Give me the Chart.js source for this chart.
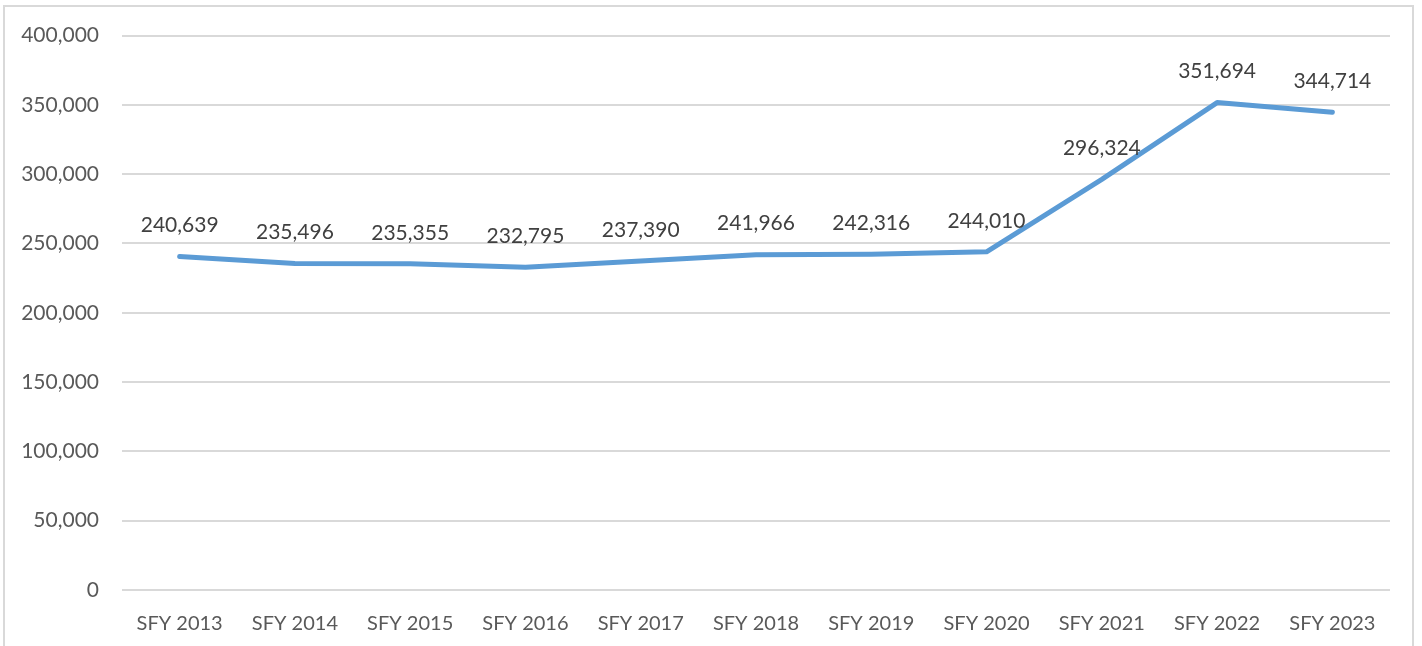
<!DOCTYPE html>
<html>
<head>
<meta charset="utf-8">
<script src="https://cdn.jsdelivr.net/npm/chart.js@4/dist/chart.umd.min.js"></script>
<style>
    html, body { margin: 0; padding: 0; background: #fff; overflow: hidden; }
    .wrap { position: relative; width: 1422px; height: 646px; }
    .frame {
        position: absolute; left: 3px; top: 5px; width: 1411px; height: 700px;
        border: 2px solid #d9d9d9; box-sizing: border-box;
    }
    canvas { position: absolute; left: 0; top: 0; }
</style>
</head>
<body>
<div class="wrap">
    <div class="frame"></div>
    <canvas id="enrollChart" width="1422" height="646"></canvas>
</div>
<script>
const categories = ['SFY 2013', 'SFY 2014', 'SFY 2015', 'SFY 2016', 'SFY 2017', 'SFY 2018',
    'SFY 2019', 'SFY 2020', 'SFY 2021', 'SFY 2022', 'SFY 2023'];
const values = [240639, 235496, 235355, 232795, 237390, 241966, 242316, 244010, 296324, 351694, 344714];
const yTicks = [0, 50000, 100000, 150000, 200000, 250000, 300000, 350000, 400000];

const fontFamily = "Lato, 'Open Sans', sans-serif";

// draws the value above each point
const valueLabels = {
    id: 'valueLabels',
    afterDatasetsDraw(chart) {
        const ctx = chart.ctx;
        const meta = chart.getDatasetMeta(0);
        ctx.save();
        ctx.font = '21px ' + fontFamily;
        ctx.fillStyle = '#404040';
        ctx.textAlign = 'center';
        ctx.textBaseline = 'middle';
        meta.data.forEach((pt, i) => {
            ctx.fillText(values[i].toLocaleString('en-US'), pt.x, pt.y - 31);
        });
        ctx.restore();
    }
};

const ctx = document.getElementById('enrollChart').getContext('2d');
const enrollChart = new Chart(ctx, {
    type: 'line',
    data: {
        labels: categories,
        datasets: [{
            data: values,
            borderColor: '#5B9BD5',
            borderWidth: 5,
            pointRadius: 0,
            tension: 0,
            borderJoinStyle: 'round',
            borderCapStyle: 'round'
        }]
    },
    options: {
        responsive: false,
        animation: false,
        layout: {
            padding: { left: 0, right: 32, top: 26, bottom: 0 }
        },
        plugins: {
            legend: { display: false },
            tooltip: { enabled: false }
        },
        scales: {
            x: {
                offset: true,
                grid: { display: false },
                border: { display: false },
                ticks: {
                    color: '#595959',
                    padding: 14,
                    maxRotation: 0,
                    font: { family: fontFamily, size: 20 }
                },
                afterFit: function(scale) { scale.height = 56; }
            },
            y: {
                min: 0,
                max: 400000,
                grid: { color: '#d9d9d9', lineWidth: 2, drawTicks: false },
                border: { display: false },
                afterBuildTicks: function(scale) {
                    scale.ticks = yTicks.map(v => ({ value: v }));
                },
                ticks: {
                    color: '#595959',
                    padding: 23,
                    font: { family: fontFamily, size: 21 },
                    callback: function(value) { return value.toLocaleString('en-US'); }
                },
                afterFit: function(scale) { scale.width = 122; }
            }
        }
    },
    plugins: [valueLabels]
});
</script>
</body>
</html>
